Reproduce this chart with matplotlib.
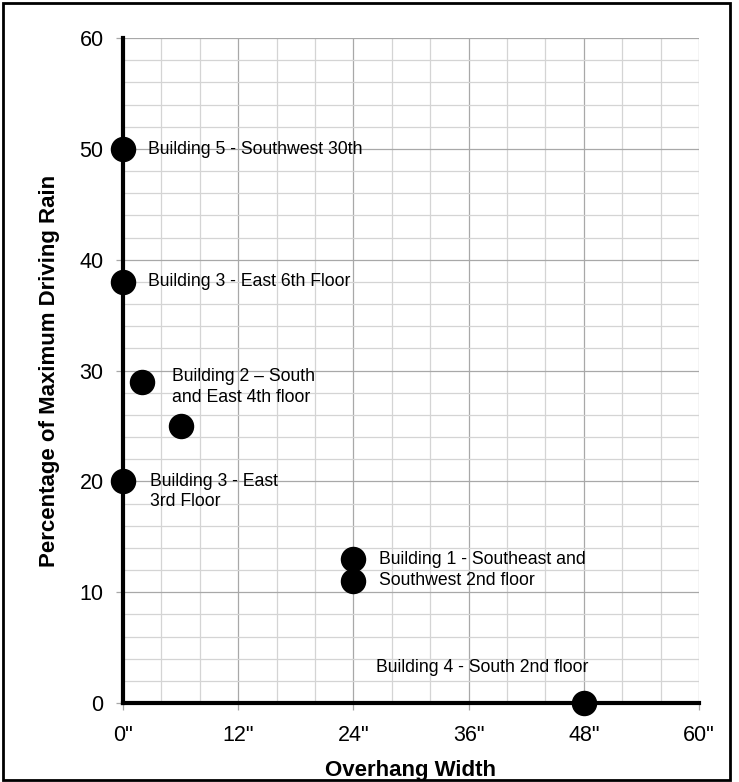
import matplotlib
matplotlib.use("Agg")
import matplotlib.pyplot as plt
from matplotlib.patches import Rectangle
from matplotlib.ticker import MultipleLocator

plt.rcParams['font.family'] = ['Liberation Sans', 'DejaVu Sans']

# Data
overhang = [0, 0, 2, 6, 0, 24, 24, 48]
pct_rain = [50, 38, 29, 25, 20, 13, 11, 0]

labels = ["Building 5 - Southwest 30th",
          "Building 3 - East 6th Floor",
          "Building 2 \u2013 South\nand East 4th floor",
          "Building 3 - East\n3rd Floor",
          "Building 1 - Southeast and\nSouthwest 2nd floor",
          "Building 4 - South 2nd floor"]
label_x = [2.6, 2.6, 5.15, 2.8, 26.7, 26.4]
label_y = [49.9, 38, 28.5, 19.1, 12, 3.2]

xticks = [0, 12, 24, 36, 48, 60]
xticklabels = ['0"', '12"', '24"', '36"', '48"', '60"']
yticks = [0, 10, 20, 30, 40, 50, 60]

fig = plt.figure(figsize=(7.39, 7.82), dpi=100)
ax = fig.add_axes([0.1664, 0.101, 0.7795, 0.8504])

ax.set_xlim(0, 60)
ax.set_ylim(0, 60)
ax.set_xticks(xticks)
ax.set_xticklabels(xticklabels)
ax.set_yticks(yticks)
ax.xaxis.set_minor_locator(MultipleLocator(4))
ax.yaxis.set_minor_locator(MultipleLocator(2))
ax.grid(which='major', color='#a8a8a8', linewidth=0.9)
ax.grid(which='minor', color='#d4d4d4', linewidth=0.9)
ax.set_axisbelow(True)
ax.tick_params(which='major', length=5, color='#a8a8a8', width=0.9, labelsize=15.5)
ax.tick_params(axis='x', which='major', pad=11)
ax.tick_params(axis='y', which='major', pad=9)
ax.tick_params(which='minor', length=0)

for s in ['top', 'right']:
    ax.spines[s].set_visible(False)
for s in ['left', 'bottom']:
    ax.spines[s].set_linewidth(3)
    ax.spines[s].set_color('black')
    ax.spines[s].set_zorder(3)

ax.scatter(overhang, pct_rain, s=300, color='black', zorder=5, clip_on=False)

for t, x, y in zip(labels, label_x, label_y):
    ax.text(x, y, t, fontsize=12.7, va='center', ha='left', linespacing=1.27)

ax.set_xlabel('Overhang Width', fontsize=16, fontweight='bold', labelpad=10)
ax.set_ylabel('Percentage of Maximum Driving Rain', fontsize=16, fontweight='bold', labelpad=14)

fig.patches.append(Rectangle((0.004, 0.002), 0.984, 0.994, transform=fig.transFigure,
                             fill=False, edgecolor='black', linewidth=2))

fig.savefig('out.png', dpi=100)
